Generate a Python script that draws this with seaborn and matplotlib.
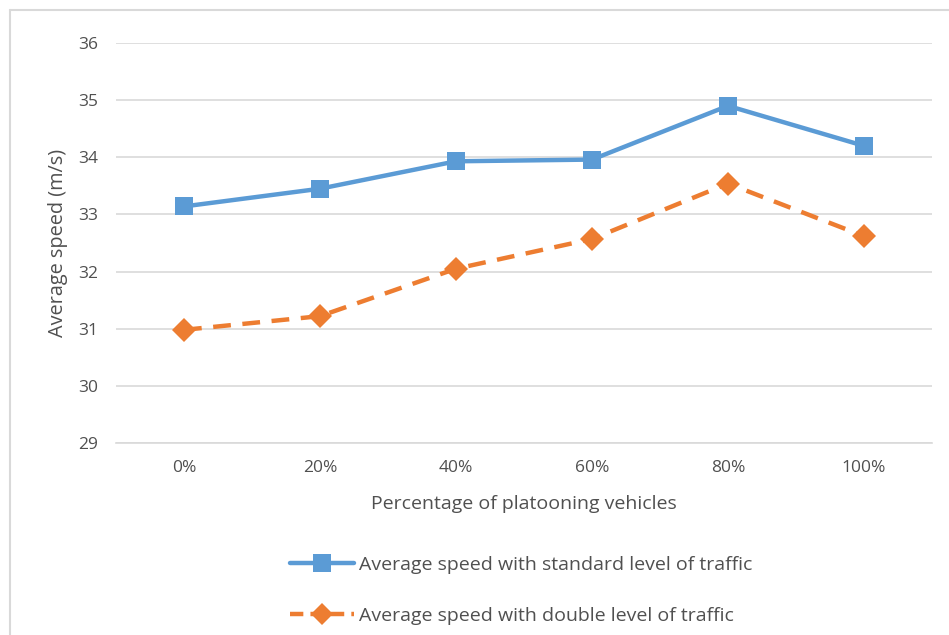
import pandas as pd
import matplotlib
matplotlib.use('Agg')
import matplotlib.pyplot as plt
from matplotlib.lines import Line2D
import seaborn as sns

# chart data
categories = ['0%', '20%', '40%', '60%', '80%', '100%']
speed_standard = [33.14, 33.45, 33.93, 33.96, 34.90, 34.20]
speed_double = [30.98, 31.22, 32.05, 32.57, 33.54, 32.62]
label_standard = 'Average speed with standard level of traffic'
label_double = 'Average speed with double level of traffic'

df = pd.DataFrame({
    'Percentage': categories * 2,
    'Speed': speed_standard + speed_double,
    'Series': [label_standard] * 6 + [label_double] * 6,
})

sns.set_style('white')
plt.rcParams['font.family'] = ['Open Sans', 'DejaVu Sans']
txt = '#505050'
blue = '#5B9BD5'
orange = '#ED7D31'
dash = (4.0, 2.6)

fig = plt.figure(figsize=(9.49, 6.35), dpi=100)
ax = fig.add_axes([116 / 949, 1 - 443 / 635, 816 / 949, 400 / 635])

sns.lineplot(data=df, x='Percentage', y='Speed', hue='Series', style='Series',
             palette=[blue, orange], markers=['s', 'D'],
             dashes=[(1, 0), dash], linewidth=3.2, markersize=12.5,
             markeredgewidth=0, sort=False, ax=ax, legend=False)

ax.set_xlim(-0.5, 5.5)
ax.set_ylim(29, 36)
ax.set_yticks(range(29, 37))
ax.grid(axis='y', color='#D9D9D9', linewidth=1.2)
ax.set_axisbelow(True)
for s in ['top', 'right', 'left']:
    ax.spines[s].set_visible(False)
ax.spines['bottom'].set_color('#D9D9D9')
ax.spines['bottom'].set_linewidth(1.2)
ax.tick_params(axis='both', length=0, labelsize=12.5, labelcolor=txt)
ax.tick_params(axis='y', pad=13)
ax.tick_params(axis='x', pad=12)
ax.set_xlabel('Percentage of platooning vehicles', fontsize=14, color=txt, labelpad=14)
ax.set_ylabel('Average speed (m/s)', fontsize=14.3, color=txt, labelpad=7)

# legend below the plot, one entry per row
handles = [
    Line2D([], [], color=blue, linewidth=3.2, marker='s', markersize=12.5, markeredgewidth=0),
    Line2D([], [], color=orange, linewidth=3.2, linestyle=(0, (3.0, 1.6)), marker='D',
           markersize=11, markeredgewidth=0),
]
leg = fig.legend(handles, [label_standard, label_double], loc='upper left',
                 bbox_to_anchor=(272 / 949, 1 - 538 / 635), frameon=False,
                 fontsize=14, handlelength=3.3, handletextpad=0.25,
                 labelspacing=1.7, labelcolor=txt)

# chart area border (only top and left visible in the crop)
fig.add_artist(Line2D([10 / 949, 10 / 949], [0, 1 - 10 / 635], color='#D9D9D9', linewidth=1.5))
fig.add_artist(Line2D([10 / 949, 1], [1 - 10 / 635, 1 - 10 / 635], color='#D9D9D9', linewidth=1.5))

fig.savefig('out.png', dpi=100, facecolor='white')
